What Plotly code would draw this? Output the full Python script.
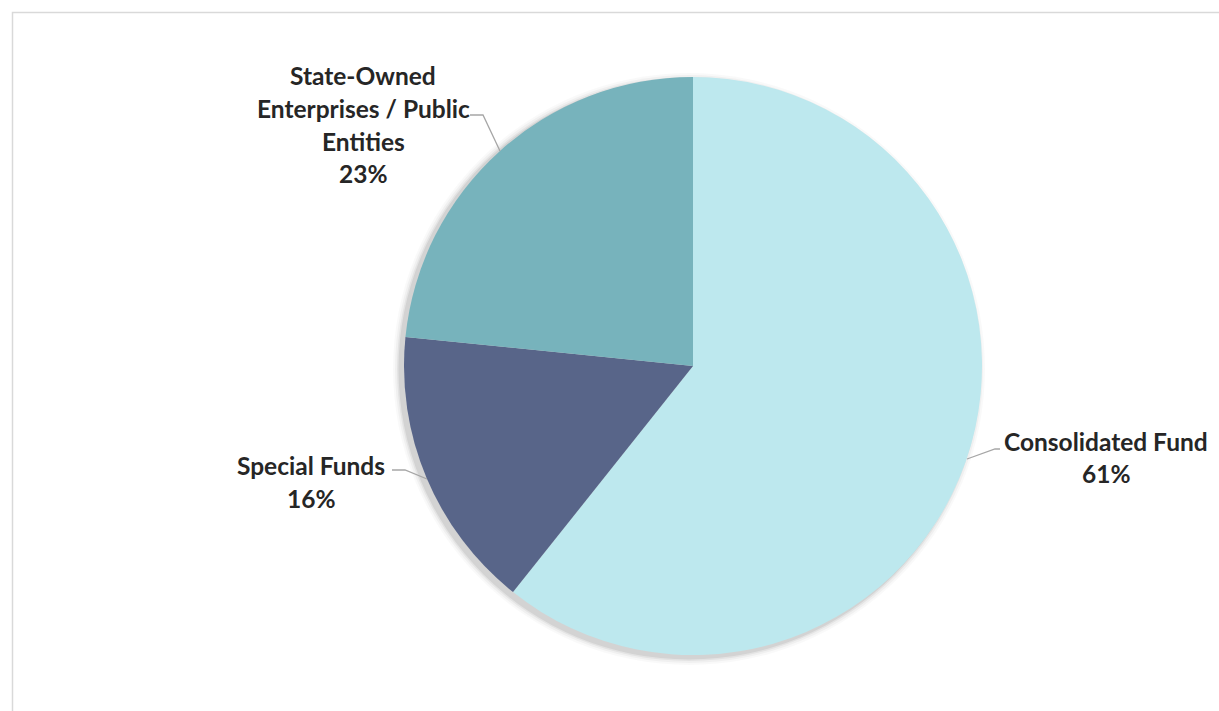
import plotly.graph_objects as go

# ---- data ----
categories = ["Consolidated Fund", "Special Funds", "State-Owned Enterprises / Public Entities"]
label_lines = [["Consolidated Fund"], ["Special Funds"], ["State-Owned", "Enterprises / Public", "Entities"]]
values = [60.7, 15.9, 23.4]
colors = ["#BDE8EE", "#586589", "#77B3BC"]

W, H = 1219, 711
CX, CY, R = 693, 366, 289


def px(x):
    return x / W


def py(y):
    return 1 - y / H


fig = go.Figure()

fig.add_trace(go.Pie(
    labels=categories,
    values=values,
    marker=dict(colors=colors, line=dict(width=0)),
    sort=False,
    direction="clockwise",
    rotation=0,
    textinfo="none",
    showlegend=False,
    domain=dict(x=[px(CX - R), px(CX + R)], y=[py(CY + R), py(CY - R)]),
))

shapes = []
# soft shadow behind the pie
for grow, op in [(7, 0.025), (5, 0.035), (3, 0.05), (1.5, 0.07)]:
    sx, sy = CX - 4, CY + 3
    r = R + grow
    shapes.append(dict(type="circle", xref="paper", yref="paper",
                       x0=px(sx - r), x1=px(sx + r), y0=py(sy + r), y1=py(sy - r),
                       fillcolor=f"rgba(0,0,0,{op})", line=dict(width=0), layer="below"))

# chart border
shapes.append(dict(type="rect", xref="paper", yref="paper",
                   x0=px(12.5), x1=px(W + 20), y0=py(H + 20), y1=py(12.5),
                   line=dict(color="#D9D9D9", width=1.5), fillcolor="rgba(0,0,0,0)"))

total = sum(values)
pcts = [f"{round(v / total * 100)}%" for v in values]

# label placements (layout only)
label_pos = [
    dict(cx=1106, y0=441, leader=[(967, 459), (995, 449), (1000, 449)]),
    dict(cx=311, y0=466, leader=[(427, 479), (405, 470), (392, 470)]),
    dict(cx=363, y0=76, leader=[(500, 151), (483, 115), (470, 115)]),
]
LINE_H = 32.5
annotations = []
for lines, pct, pos in zip(label_lines, pcts, label_pos):
    all_lines = lines + [pct]
    for k, t in enumerate(all_lines):
        annotations.append(dict(
            x=px(pos["cx"]), y=py(pos["y0"] + k * LINE_H), xref="paper", yref="paper",
            text=t, showarrow=False, xanchor="center", yanchor="middle",
            font=dict(family="Lato", size=24.5, color="#262626", weight="bold"),
        ))
    pts = pos["leader"]
    path = "M " + " L ".join(f"{px(x)} {py(y)}" for x, y in pts)
    shapes.append(dict(type="path", xref="paper", yref="paper", path=path,
                       line=dict(color="#A6A6A6", width=1.3)))

fig.update_layout(
    width=W, height=H,
    margin=dict(l=0, r=0, t=0, b=0),
    paper_bgcolor="white",
    plot_bgcolor="white",
    shapes=shapes,
    annotations=annotations,
)

fig.write_html(
    "out.html",
    config={"displayModeBar": False},
    post_script="document.body.style.margin='0';document.body.style.overflow='hidden';",
)
